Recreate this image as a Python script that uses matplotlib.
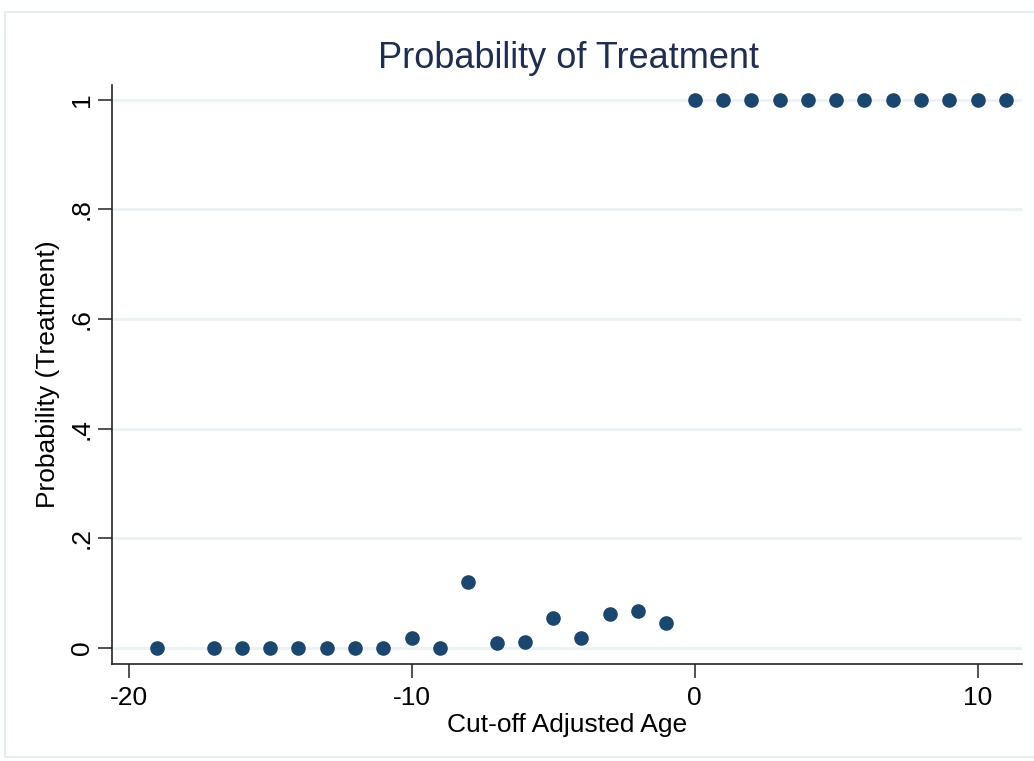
# Probability of treatment by cut-off adjusted age (Stata style scatter).

import numpy as np
import matplotlib.pyplot as plt
from matplotlib.patches import Rectangle

# --------------------------- DATA ---------------------------

age = [-19, -17, -16, -15, -14, -13, -12, -11, -10, -9, -8, -7, -6, -5, -4, -3, -2, -1,
       0, 1, 2, 3, 4, 5, 6, 7, 8, 9, 10, 11]
prob = [0, 0, 0, 0, 0, 0, 0, 0, 0.018, 0, 0.12, 0.01, 0.012, 0.055, 0.018, 0.063, 0.068, 0.045,
        1, 1, 1, 1, 1, 1, 1, 1, 1, 1, 1, 1]

x_ticks = [-20, -10, 0, 10]
y_ticks = [0, 0.2, 0.4, 0.6, 0.8, 1]
y_tick_labels = ['0', '.2', '.4', '.6', '.8', '1']

# --------------------------- STYLE ---------------------------

plt.rcParams['font.family'] = ['Liberation Sans', 'DejaVu Sans']
plt.rcParams['axes.unicode_minus'] = False
marker_color = '#1a476f'
title_color = '#1e2d53'
grid_color = '#eaf2f3'

# --------------------------- PLOT ---------------------------

fig = plt.figure(figsize=(10.34, 7.61), dpi=100)
ax = fig.add_axes([112 / 1034, 1 - 664 / 761, (1022 - 112) / 1034, (664 - 85) / 761])

# Light outer frame like the Stata graph region.
fig.patches.append(Rectangle((5 / 1034, 1 - 757 / 761), 1.0, (757 - 12) / 761,
                             transform=fig.transFigure, fill=False,
                             edgecolor='#e6edef', linewidth=1.5))

for yv in y_ticks:
    ax.axhline(yv, color=grid_color, linewidth=2, zorder=0)

ax.plot(age, prob, 'o', color=marker_color, markersize=9.5, zorder=3)

ax.set_xlim(-20.59, 11.57)
ax.set_ylim(-0.029, 1.027)
ax.set_xticks(x_ticks)
ax.set_yticks(y_ticks)
ax.set_yticklabels(y_tick_labels, rotation=90, va='center')

for side in ['top', 'right']:
    ax.spines[side].set_visible(False)
for side in ['left', 'bottom']:
    ax.spines[side].set_linewidth(1.2)
    ax.spines[side].set_color('#222222')

ax.tick_params(axis='both', length=10, width=1.2, color='#333333', labelsize=19)
ax.tick_params(axis='y', pad=3)
ax.tick_params(axis='x', pad=6)

ax.set_xlabel('Cut-off Adjusted Age', fontsize=19, labelpad=2)
ax.set_ylabel('Probability (Treatment)', fontsize=19, labelpad=7)

fig.text(569 / 1034, 1 - 58 / 761, 'Probability of Treatment', fontsize=26,
         color=title_color, ha='center', va='center')

fig.savefig('out.png', dpi=100)
